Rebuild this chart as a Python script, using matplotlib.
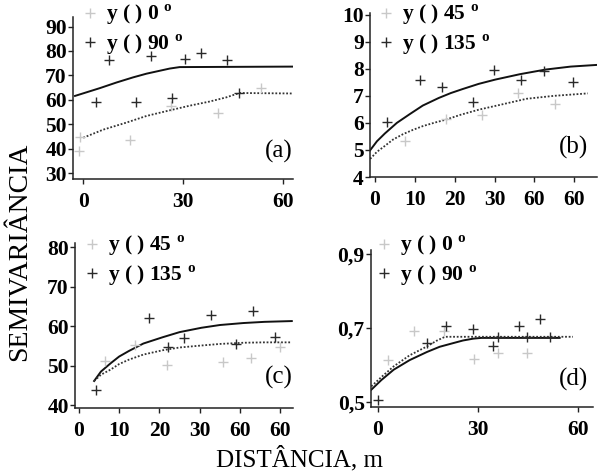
import matplotlib
matplotlib.use('Agg')
import matplotlib.pyplot as plt

W, H = 599, 473
plt.rcParams['font.family'] = ['Liberation Serif', 'DejaVu Serif']
plt.rcParams['mathtext.fontset'] = 'custom'
plt.rcParams['mathtext.rm'] = 'Liberation Serif:bold'
plt.rcParams['mathtext.bf'] = 'Liberation Serif:bold'

# ---------------- data ----------------
# (a) 0 deg / 90 deg
a_dist_0 = [-1.0, -1.3, 14.2, 26.4, 40.6, 53.4]
a_gamma_0 = [44.6, 38.9, 43.5, 57.3, 54.7, 64.8]
a_dist_90 = [3.7, 7.7, 16.0, 20.4, 26.6, 30.6, 35.4, 43.1, 46.9]
a_gamma_90 = [59.3, 76.3, 59.3, 77.9, 60.8, 76.7, 79.1, 76.3, 62.9]
a_model0_x = [0, 6, 13, 19, 26, 32, 38, 43, 47, 63]
a_model0_y = [44.5, 47.8, 50.7, 53.4, 55.7, 57.6, 59.3, 61.0, 62.8, 62.6]
a_model90_x = [-2.5, 5, 10, 15, 19, 23, 26, 29, 63]
a_model90_y = [61.6, 64.8, 67.1, 69.2, 70.7, 71.9, 72.8, 73.4, 73.6]

# (b) 45 deg / 135 deg
b_dist_45 = [7.5, 17.8, 26.9, 36.0, 45.1]
b_gamma_45 = [5.34, 6.13, 6.29, 7.10, 6.68]
b_dist_135 = [2.9, 11.3, 16.9, 24.6, 29.8, 36.6, 42.4, 49.6]
b_gamma_135 = [6.03, 7.57, 7.31, 6.77, 7.97, 7.60, 7.91, 7.50]
b_model45_x = [-1.2, 0.5, 2.5, 4.5, 7.0, 9.5, 12.0, 15.0, 17.8, 21.5, 26.1, 31.5, 38.0, 45.0, 53.4]
b_model45_y = [4.67, 4.93, 5.15, 5.38, 5.58, 5.74, 5.88, 6.01, 6.12, 6.30, 6.49, 6.67, 6.89, 7.00, 7.09]
b_model135_x = [-1.2, 0.5, 2.5, 5.5, 8.8, 12.0, 16.0, 19.0, 22.0, 26.0, 30.2, 36.4, 42.8, 49.1, 55.5]
b_model135_y = [4.99, 5.32, 5.61, 6.00, 6.33, 6.64, 6.92, 7.10, 7.25, 7.44, 7.60, 7.80, 7.97, 8.08, 8.14]

# (c) 45 deg / 135 deg
c_dist_45 = [6.4, 13.9, 21.8, 35.8, 42.8, 50.0]
c_gamma_45 = [51.2, 55.2, 50.2, 50.8, 51.9, 54.6]
c_dist_135 = [4.2, 17.3, 22.2, 26.2, 32.8, 39.0, 43.2, 48.6]
c_gamma_135 = [43.8, 62.0, 54.7, 56.9, 62.9, 55.6, 63.9, 57.2]
c_model45_x = [3.8, 5.5, 7.9, 10.0, 12.4, 16.0, 20.8, 25.0, 30.4, 35.0, 40.8, 46.0, 52.8]
c_model45_y = [46.1, 47.7, 49.0, 50.4, 51.5, 52.8, 53.9, 54.6, 55.1, 55.5, 55.8, 55.9, 55.9]
c_model135_x = [3.8, 5.5, 7.9, 10.0, 12.4, 16.0, 20.8, 25.0, 30.4, 35.0, 40.8, 46.0, 52.8]
c_model135_y = [46.1, 48.5, 50.6, 52.3, 53.7, 55.6, 57.2, 58.5, 59.6, 60.3, 60.8, 61.1, 61.3]

# (d) 0 deg / 90 deg
d_dist_0 = [2.9, 10.7, 19.7, 28.7, 36.0, 44.7]
d_gamma_0 = [0.613, 0.692, 0.692, 0.617, 0.632, 0.632]
d_dist_90 = [0.0, 14.7, 20.5, 28.5, 34.5, 36.0, 42.2, 44.7, 48.5, 51.5]
d_gamma_90 = [0.507, 0.660, 0.705, 0.699, 0.651, 0.677, 0.707, 0.677, 0.725, 0.677]
d_model0_x = [-2.0, 1.0, 4.7, 9.5, 14.7, 17.5, 20.1, 58.5]
d_model0_y = [0.543, 0.568, 0.597, 0.627, 0.651, 0.666, 0.677, 0.677]
d_model90_x = [-2.0, 1.0, 4.7, 9.5, 14.7, 18.5, 22.6, 25.5, 28.6, 31.0, 54.5]
d_model90_y = [0.534, 0.560, 0.588, 0.614, 0.636, 0.650, 0.660, 0.667, 0.672, 0.674, 0.674]

xticks_ad = [0, 30, 60]
xticklabels_ad = ['0', '30', '60']
xticks_bc = [0, 10, 20, 30, 40, 50]
xticklabels_bc = ['0', '10', '20', '30', '60', '60']
yticks_a = [30, 40, 50, 60, 70, 80, 90]
yticks_b = [4, 5, 6, 7, 8, 9, 10]
yticks_c = [40, 50, 60, 70, 80]
yticks_d = [0.5, 0.7, 0.9]
yticklabels_d = ['0,5', '0,7', '0,9']

deg = r'$^{\mathrm{o}}$'
labels_a = ['y ( ) 0 ' + deg, 'y ( ) 90 ' + deg]
labels_b = ['y ( ) 45 ' + deg, 'y ( ) 135 ' + deg]
labels_c = ['y ( ) 45 ' + deg, 'y ( ) 135 ' + deg]
labels_d = ['y ( ) 0 ' + deg, 'y ( ) 90 ' + deg]

LIGHT = '#c8c8c8'
DARK = '#2a2a2a'

fig = plt.figure(figsize=(W / 100, H / 100), dpi=100)


def add_ax(l, t, r, b):
    return fig.add_axes([l / W, 1 - b / H, (r - l) / W, (b - t) / H])


def style(ax, xlim, ylim, xt, xtl, yt, ytl):
    ax.set_xlim(*xlim)
    ax.set_ylim(*ylim)
    ax.set_xticks(xt)
    ax.set_xticklabels(xtl)
    ax.set_yticks(yt)
    ax.set_yticklabels(ytl)
    for s in ('top', 'right'):
        ax.spines[s].set_visible(False)
    for s in ('left', 'bottom'):
        ax.spines[s].set_linewidth(1.1)
        ax.spines[s].set_color('#222222')
    ax.tick_params(axis='both', direction='out', length=3.5, width=1.0,
                   color='#222222', labelsize=15.5)
    ax.tick_params(axis='y', pad=1)
    ax.tick_params(axis='x', pad=6)
    for lab in ax.get_xticklabels() + ax.get_yticklabels():
        lab.set_fontweight('bold')
    ax.patch.set_alpha(0)


def panel(ax, xl, yl, xd, yd, xm_l, ym_l, xm_d, ym_d, labels, leg_px):
    ax.plot(xm_d, ym_d, '-', color='#111111', lw=1.4, zorder=2)
    ax.plot(xm_l, ym_l, linestyle=(0, (1, 1)), color='#333333', lw=1.3, zorder=2)
    h1, = ax.plot(xl, yl, '+', color=LIGHT, ms=7, mew=1.0, linestyle='none', zorder=3)
    h2, = ax.plot(xd, yd, '+', color=DARK, ms=7, mew=1.0, linestyle='none', zorder=3)
    leg = ax.legend([h1, h2], labels, loc='upper left',
                    bbox_to_anchor=(leg_px[0] / W, 1 - leg_px[1] / H),
                    bbox_transform=fig.transFigure, frameon=False,
                    borderpad=0, borderaxespad=0, handlelength=0.8,
                    handletextpad=0.35, labelspacing=0.22,
                    prop={'family': 'Liberation Serif', 'weight': 'bold', 'size': 15.5})
    return leg


ax_a = add_ax(73, 17, 293, 179)
panel(ax_a, a_dist_0, a_gamma_0, a_dist_90, a_gamma_90,
      a_model0_x, a_model0_y, a_model90_x, a_model90_y, labels_a, (81, 3))
style(ax_a, (-3.1, 63.1), (27.6, 93.9), xticks_ad, xticklabels_ad,
      yticks_a, [str(v) for v in yticks_a])

ax_b = add_ax(370, 13, 597, 177)
panel(ax_b, b_dist_45, b_gamma_45, b_dist_135, b_gamma_135,
      b_model45_x, b_model45_y, b_model135_x, b_model135_y, labels_b, (377, 3))
style(ax_b, (-1.24, 55.7), (4.0, 10.06), xticks_bc, xticklabels_bc,
      yticks_b, [str(v) for v in yticks_b])

ax_c = add_ax(75, 243, 293, 408)
panel(ax_c, c_dist_45, c_gamma_45, c_dist_135, c_gamma_135,
      c_model45_x, c_model45_y, c_model135_x, c_model135_y, labels_c, (83, 234))
style(ax_c, (-0.94, 53.1), (39.25, 81.1), xticks_bc, xticklabels_bc,
      yticks_c, [str(v) for v in yticks_c])

ax_d = add_ax(371, 250, 593, 407)
panel(ax_d, d_dist_0, d_gamma_0, d_dist_90, d_gamma_90,
      d_model0_x, d_model0_y, d_model90_x, d_model90_y, labels_d, (375, 234))
style(ax_d, (-2.1, 64.5), (0.4872, 0.9116), xticks_ad, xticklabels_ad,
      yticks_d, yticklabels_d)

for txt, (x, y) in [('(a)', (293, 151)), ('(b)', (588, 147)),
                    ('(c)', (293, 377)), ('(d)', (588, 379))]:
    fig.text(x / W, 1 - y / H, txt, ha='right', va='center', fontsize=18,
             family='Liberation Serif')

fig.text(20 / W, 1 - 252 / H, 'SEMIVARIÂNCIA', rotation=90, ha='center',
         va='center', fontsize=20, family='Liberation Serif')
fig.text(300 / W, 1 - 459 / H, 'DISTÂNCIA, m', ha='center', va='center',
         fontsize=18, family='Liberation Serif')

fig.savefig('out.png', dpi=100)
